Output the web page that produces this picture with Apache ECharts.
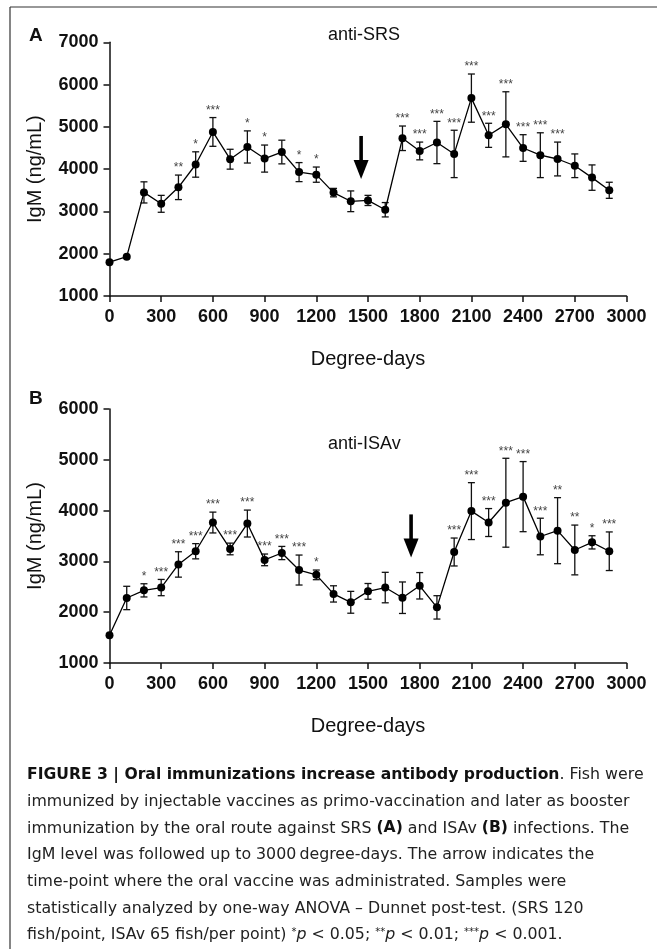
<!DOCTYPE html>
<html>
<head>
<meta charset="utf-8">
<script src="https://cdn.jsdelivr.net/npm/echarts@6/dist/echarts.min.js"></script>
<style>
  html, body { margin: 0; padding: 0; background: #fff; }
  #chart { width: 657px; height: 949px; }
</style>
</head>
<body>
<div id="chart"></div>
<script>
// degree-days sampled every 100
const degrees = [0, 100, 200, 300, 400, 500, 600, 700, 800, 900, 1000, 1100, 1200, 1300, 1400,
  1500, 1600, 1700, 1800, 1900, 2000, 2100, 2200, 2300, 2400, 2500, 2600, 2700, 2800, 2900];

// panel A: anti-SRS IgM (ng/mL), mean and error
const srsMean = [1800, 1930, 3450, 3180, 3570, 4110, 4880, 4235, 4525, 4250, 4405, 3930, 3870, 3445, 3240,
  3260, 3040, 4730, 4430, 4630, 4360, 5680, 4800, 5060, 4500, 4330, 4240, 4080, 3800, 3500];
const srsErr = [0, 0, 250, 200, 290, 300, 340, 235, 380, 320, 280, 225, 180, 100, 245,
  120, 170, 290, 210, 500, 560, 570, 285, 770, 315, 530, 400, 280, 300, 190];
const srsSig = ['', '', '', '', '**', '*', '***', '', '*', '*', '', '*', '*', '', '',
  '', '', '***', '***', '***', '***', '***', '***', '***', '***', '***', '***', '', '', ''];

// panel B: anti-ISAv IgM (ng/mL), mean and error
const isaMean = [1545, 2280, 2430, 2485, 2940, 3200, 3765, 3245, 3745, 3030, 3165, 2830, 2735, 2360, 2195,
  2410, 2485, 2285, 2520, 2095, 3185, 3990, 3765, 4155, 4275, 3490, 3605, 3225, 3375, 3200];
const isaErr = [0, 230, 130, 160, 250, 150, 205, 115, 265, 115, 130, 295, 95, 160, 215,
  155, 300, 310, 260, 230, 275, 560, 275, 875, 690, 360, 650, 490, 130, 380];
const isaSig = ['', '', '*', '***', '***', '***', '***', '***', '***', '***', '***', '***', '*', '', '',
  '', '', '', '', '', '***', '***', '***', '***', '***', '***', '**', '**', '*', '***'];

// oral vaccine arrows: [degree-days, top value, tip value]
const srsArrow = [[1460, 4785, 3770]];
const isaArrow = [[1750, 3925, 3075]];

const xTicks = { min: 0, max: 3000, interval: 300 };
const srsYTicks = { min: 1000, max: 7000, interval: 1000 };
const isaYTicks = { min: 1000, max: 6000, interval: 1000 };

const captionLines = [
  '{b|FIGURE 3 | Oral immunizations increase antibody production}. Fish were',
  'immunized by injectable vaccines as primo-vaccination and later as booster',
  'immunization by the oral route against SRS {b|(A)} and ISAv {b|(B)} infections. The',
  'IgM level was followed up to 3000\u2009degree-days. The arrow indicates the',
  'time-point where the oral vaccine was administrated. Samples were',
  'statistically analyzed by one-way ANOVA \u2013 Dunnet post-test. (SRS 120',
  'fish/point, ISAv 65 fish/per point) {s|*}{i|p} < 0.05; {s|**}{i|p} < 0.01; {s|***}{i|p} < 0.001.'
];

const FONT = '"Liberation Sans", Arial, sans-serif';
const CAP_FONT = '"DejaVu Sans", sans-serif';

function errorBars(params, api) {
  const x = api.value(0), m = api.value(1), e = api.value(2);
  const sig = api.value(3);
  const children = [];
  const top = api.coord([x, m + e]);
  if (e > 0) {
    const bot = api.coord([x, m - e]);
    const w = 3.5;
    const st = { stroke: '#111', lineWidth: 1.3 };
    children.push(
      { type: 'line', shape: { x1: top[0], y1: top[1], x2: bot[0], y2: bot[1] }, style: st },
      { type: 'line', shape: { x1: top[0] - w, y1: top[1], x2: top[0] + w, y2: top[1] }, style: st },
      { type: 'line', shape: { x1: bot[0] - w, y1: bot[1], x2: bot[0] + w, y2: bot[1] }, style: st }
    );
  }
  if (sig) {
    children.push({
      type: 'text', x: top[0], y: top[1] - 1,
      style: { text: sig, textAlign: 'center', textVerticalAlign: 'bottom', fontSize: 12, fontFamily: FONT, fill: '#444' }
    });
  }
  return { type: 'group', children: children };
}

function arrow(params, api) {
  const x = api.value(0);
  const top = api.coord([x, api.value(1)]);
  const tip = api.coord([x, api.value(2)]);
  const headLen = 19, headW = 7.5, shaftW = 1.8;
  const hy = tip[1] - headLen;
  return {
    type: 'group', children: [
      { type: 'rect', shape: { x: top[0] - shaftW, y: top[1], width: shaftW * 2, height: hy - top[1] + 1 }, style: { fill: '#000' } },
      { type: 'polygon', shape: { points: [[tip[0] - headW, hy], [tip[0] + headW, hy], [tip[0], tip[1]]] }, style: { fill: '#000' } }
    ]
  };
}

function xAxisFor(gridIndex) {
  return {
    type: 'value', gridIndex: gridIndex, min: xTicks.min, max: xTicks.max, interval: xTicks.interval,
    name: 'Degree-days', nameLocation: 'middle', nameGap: 53,
    nameTextStyle: { fontSize: 20, fontFamily: FONT, color: '#111' },
    axisLine: { lineStyle: { color: '#111', width: 1.5 } },
    axisTick: { length: 6, lineStyle: { color: '#111', width: 1.5 } },
    axisLabel: { margin: 12, fontSize: 18, fontWeight: 'bold', fontFamily: FONT, color: '#111', formatter: v => String(v) },
    splitLine: { show: false }
  };
}

function yAxisFor(gridIndex, ticks) {
  return {
    type: 'value', gridIndex: gridIndex, min: ticks.min, max: ticks.max, interval: ticks.interval,
    name: 'IgM (ng/mL)', nameLocation: 'middle', nameGap: 64,
    nameTextStyle: { fontSize: 20, fontFamily: FONT, color: '#111' },
    axisLine: { show: true, lineStyle: { color: '#111', width: 1.5 } },
    axisTick: { show: true, length: 6, lineStyle: { color: '#111', width: 1.5 } },
    axisLabel: { margin: 11, fontSize: 18, fontWeight: 'bold', fontFamily: FONT, color: '#111', formatter: v => String(v) },
    splitLine: { show: false }
  };
}

function zip(means, errs, sigs) {
  return degrees.map((d, i) => [d, means[i], errs[i], sigs[i]]);
}

function panelSeries(idx, means, errs, sigs, arr) {
  return [
    {
      type: 'custom', xAxisIndex: idx, yAxisIndex: idx, z: 2,
      renderItem: errorBars, data: zip(means, errs, sigs),
      dimensions: ['x', 'y', 'err', { name: 'sig', type: 'ordinal' }],
      encode: { x: 0, y: 1 }, silent: true
    },
    {
      type: 'line', xAxisIndex: idx, yAxisIndex: idx, z: 3,
      data: degrees.map((d, i) => [d, means[i]]),
      symbol: 'circle', symbolSize: 8, showAllSymbol: true,
      itemStyle: { color: '#000' }, lineStyle: { color: '#000', width: 1.3 },
      animation: false
    },
    {
      type: 'custom', xAxisIndex: idx, yAxisIndex: idx, z: 4,
      renderItem: arrow, data: arr, encode: { x: 0, y: 1 }, silent: true
    }
  ];
}

const CAP_SIZE = 15.8;
const captionGraphics = captionLines.map((t, i) => ({
  type: 'text', left: 27, top: 767 + i * 26.7,
  style: {
    text: t, fontSize: CAP_SIZE, fontFamily: CAP_FONT, fill: '#222',
    rich: {
      b: { fontSize: 15.6, fontWeight: 'bold', fontFamily: CAP_FONT, fill: '#111' },
      i: { fontSize: CAP_SIZE, fontStyle: 'italic', fontFamily: CAP_FONT, fill: '#222' },
      s: { fontSize: 10, fontFamily: CAP_FONT, fill: '#222', verticalAlign: 'top', padding: [0, 0, 6, 0] }
    }
  }
}));

const chart = echarts.init(document.getElementById('chart'), null, { renderer: 'canvas' });
chart.setOption({
  animation: false,
  backgroundColor: '#fff',
  grid: [
    { left: 109.5, right: 30.5, top: 42.3, height: 253.7 },
    { left: 109.5, right: 30.5, top: 409, height: 254 }
  ],
  xAxis: [xAxisFor(0), xAxisFor(1)],
  yAxis: [yAxisFor(0, srsYTicks), yAxisFor(1, isaYTicks)],
  series: [].concat(
    panelSeries(0, srsMean, srsErr, srsSig, srsArrow),
    panelSeries(1, isaMean, isaErr, isaSig, isaArrow)
  ),
  graphic: [
    { type: 'line', shape: { x1: 10, y1: 7, x2: 657, y2: 7 }, style: { stroke: '#333', lineWidth: 1.2 } },
    { type: 'line', shape: { x1: 10, y1: 7, x2: 10, y2: 949 }, style: { stroke: '#333', lineWidth: 1.2 } },
    { type: 'text', left: 29, top: 26, style: { text: 'A', fontSize: 19, fontWeight: 'bold', fontFamily: FONT, fill: '#111' } },
    { type: 'text', left: 29, top: 389, style: { text: 'B', fontSize: 19, fontWeight: 'bold', fontFamily: FONT, fill: '#111' } },
    { type: 'text', left: 328, top: 26, style: { text: 'anti-SRS', fontSize: 18, fontFamily: FONT, fill: '#111' } },
    { type: 'text', left: 328, top: 435, style: { text: 'anti-ISAv', fontSize: 18, fontFamily: FONT, fill: '#111' } }
  ].concat(captionGraphics)
});
</script>
</body>
</html>
